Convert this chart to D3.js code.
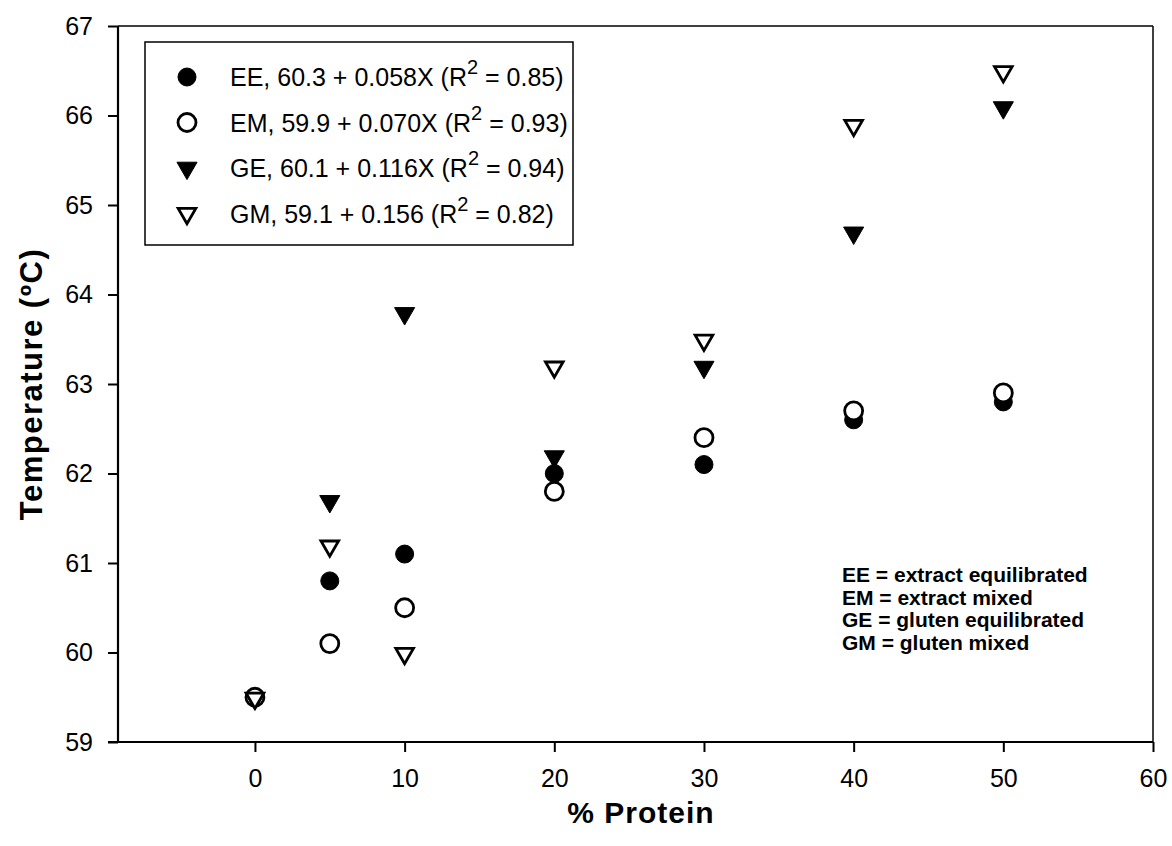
<!DOCTYPE html>
<html>
<head>
<meta charset="utf-8">
<script src="https://cdn.jsdelivr.net/npm/d3@7"></script>
<style>
  body { margin: 0; background: #fff; }
  svg { font-family: "Liberation Sans", Arial, sans-serif; }
</style>
</head>
<body>
<script>
// data
const protein = [0, 5, 10, 20, 30, 40, 50];
const EE = [59.5, 60.8, 61.1, 62.0, 62.1, 62.6, 62.8];
const EM = [59.5, 60.1, 60.5, 61.8, 62.4, 62.7, 62.9];
const GE = [59.5, 61.7, 63.8, 62.2, 63.2, 64.7, 66.1];
const GM = [59.5, 61.2, 60.0, 63.2, 63.5, 65.9, 66.5];
const xTicks = [0, 10, 20, 30, 40, 50, 60];
const yTicks = [59, 60, 61, 62, 63, 64, 65, 66, 67];
const legendLabels = [
  ["EE, 60.3 + 0.058X (R", " = 0.85)"],
  ["EM, 59.9 + 0.070X (R", " = 0.93)"],
  ["GE, 60.1 + 0.116X (R", " = 0.94)"],
  ["GM, 59.1 + 0.156 (R", " = 0.82)"]
];
const notes = ["EE = extract equilibrated", "EM = extract mixed", "GE = gluten equilibrated", "GM = gluten mixed"];

const series = [
  { name: "EE", values: EE, shape: "circle", filled: true },
  { name: "EM", values: EM, shape: "circle", filled: false },
  { name: "GE", values: GE, shape: "tri", filled: true },
  { name: "GM", values: GM, shape: "tri", filled: false }
];

const svg = d3.select("body").append("svg")
  .attr("width", 1172)
  .attr("height", 846);

const x = d3.scaleLinear().domain([-9.15, 60]).range([118, 1153]);
const y = d3.scaleLinear().domain([59, 67]).range([742, 26]);

// frame top / right
svg.append("line").attr("x1", 118).attr("x2", 1153).attr("y1", 26).attr("y2", 26)
  .attr("stroke", "#000").attr("stroke-width", 1.5);
svg.append("line").attr("x1", 1153).attr("x2", 1153).attr("y1", 26).attr("y2", 742)
  .attr("stroke", "#000").attr("stroke-width", 1.5);

// axes
const xAxis = svg.append("g").attr("transform", "translate(0,742)")
  .call(d3.axisBottom(x).tickValues(xTicks).tickSize(10).tickPadding(17).tickSizeOuter(0));
const yAxis = svg.append("g").attr("transform", "translate(118,0)")
  .call(d3.axisLeft(y).tickValues(yTicks).tickSize(10).tickPadding(15).tickSizeOuter(0));

[xAxis, yAxis].forEach(a => {
  a.attr("font-size", 25).attr("font-family", "Liberation Sans, Arial, sans-serif");
  a.select(".domain").attr("stroke", "#000").attr("stroke-width", 2.2);
  a.selectAll(".tick line").attr("stroke", "#000").attr("stroke-width", 2);
  a.selectAll(".tick text").attr("fill", "#000");
});
// x axis line starts at the left tick length, as in the original
xAxis.select(".domain").attr("d", "M108,0H1153");
yAxis.select(".domain").attr("d", "M0,742V26");

// axis titles
svg.append("text")
  .attr("x", 641).attr("y", 823)
  .attr("text-anchor", "middle")
  .style("font-size", "30px").style("font-weight", "bold")
  .style("letter-spacing", "1px")
  .text("% Protein");

svg.append("text")
  .attr("transform", "translate(42,384) rotate(-90)")
  .attr("text-anchor", "middle")
  .style("font-size", "31px").style("font-weight", "bold")
  .style("letter-spacing", "1.5px")
  .text("Temperature (ºC)");

// symbols
const circleGen = d3.symbol().type(d3.symbolCircle).size(Math.PI * 9 * 9);
const triFilled = d3.symbol().type(d3.symbolTriangle).size(175);
const triOpen = d3.symbol().type(d3.symbolTriangle).size(135);

function drawSymbol(g, s) {
  const path = s.shape === "circle" ? circleGen() : (s.filled ? triFilled() : triOpen());
  g.append("path")
    .attr("d", path)
    .attr("transform", s.shape === "tri" ? "rotate(180)" : null)
    .attr("fill", s.filled ? "#000" : "#fff")
    .attr("stroke", "#000")
    .attr("stroke-width", s.filled ? 1 : 2.8);
}

series.forEach(s => {
  const pts = svg.append("g").selectAll("g")
    .data(protein.map((p, i) => ({ p, v: s.values[i] })))
    .join("g")
    .attr("transform", d => `translate(${x(d.p)},${y(d.v) + (s.shape === "tri" ? 1 : 0)})`);
  pts.each(function () { drawSymbol(d3.select(this), s); });
});

// legend box
const legend = svg.append("g");
legend.append("rect")
  .attr("x", 145).attr("y", 42).attr("width", 428).attr("height", 203)
  .attr("fill", "#fff").attr("stroke", "#000").attr("stroke-width", 1.5);

series.forEach((s, i) => {
  const cy = 77 + i * 45.5;
  const g = legend.append("g").attr("transform", `translate(187,${cy})`);
  drawSymbol(g, s);
  const t = legend.append("text")
    .attr("x", 230).attr("y", cy + 9)
    .style("font-size", "25px");
  t.append("tspan").text(legendLabels[i][0]);
  t.append("tspan").attr("dy", -12).style("font-size", "20px").text("2");
  t.append("tspan").attr("dy", 12).text(legendLabels[i][1]);
});

// abbreviation notes
svg.append("g").selectAll("text")
  .data(notes)
  .join("text")
  .attr("x", 842)
  .attr("y", (d, i) => 582 + i * 22.5)
  .style("font-size", "21px").style("font-weight", "bold")
  .text(d => d);
</script>
</body>
</html>
